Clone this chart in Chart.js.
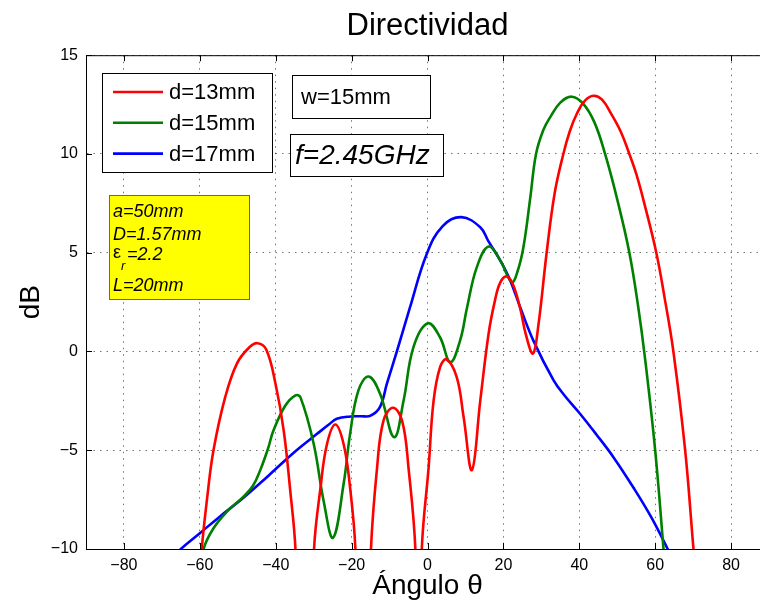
<!DOCTYPE html>
<html>
<head>
<meta charset="utf-8">
<title>Directividad</title>
<script src="https://cdn.jsdelivr.net/npm/chart.js@4.4.1/dist/chart.umd.min.js"></script>
<style>
  html, body { margin: 0; padding: 0; background: #fff; overflow: hidden; }
  #wrap { width: 790px; height: 610px; }
</style>
</head>
<body>
<div id="wrap"><canvas id="myChart" width="790" height="610"></canvas></div>
<script>
const seriesLabels = ["d=13mm", "d=15mm", "d=17mm"];
const seriesColors = ["#ff0000", "#008000", "#0000ff"];

// d=13mm
const redAngles = [-62, -59.5, -58, -56.4, -53.3, -50.2, -47, -44.8, -42.5, -40.1, -37.9, -36.2, -34.8, -32.3,
  -29.9, -28.2, -26.5, -24.3, -22.1, -20.4, -19, -17, -14.9, -13.3, -11.6, -9.1, -6.7, -5.0, -3.2, -2.3,
  -1.5, 0.3, 1.6, 3.3, 5.0, 7.7, 9.5, 11.7, 13.9, 16.1, 17.8, 19.2, 20.9, 22.5, 24.4, 26, 27.8, 29.2, 31.4,
  33.5, 35.8, 37.5, 39.5, 41.5, 43.7, 46, 48.5, 51, 53.2, 55, 57, 60.3, 62.5, 64.8, 67.9, 70.1, 71.5];
const redDb = [-16, -10, -7.3, -5, -2.3, -0.6, 0.2, 0.42, 0.1, -1.6, -4.0, -7.0, -10, -22,
  -10, -6.9, -4.7, -3.7, -4.7, -6.9, -10, -22, -10, -5.9, -3.5, -2.85, -3.5, -5.9, -10, -18,
  -10, -5.85, -2.5, -0.8, -0.4, -1.3, -3.3, -6.0, -2.5, 0.9, 2.6, 3.5, 3.8, 3.4, 2.2, 0.8, -0.1, 1.3, 5,
  8, 10, 11.15, 12.1, 12.7, 12.95, 12.75, 12.0, 11.1, 10, 9.0, 7.6, 5, 2.7, 0, -5, -10, -13];

// d=15mm
const greenAngles = [-60.5, -59, -56.4, -52.8, -48.5, -46, -44.1, -42, -40.6, -37.5, -34.9, -33.5, -30, -27.4,
  -24.9, -22.1, -20.4, -18.2, -15.5, -12.5, -8.8, -6.3, -3.7, 0.1, 3.3, 6.0, 8.6, 10.4, 13, 16.1, 19.2, 22.2,
  23.8, 25.3, 27.1, 28.6, 30.5, 32.3, 35, 38.0, 41, 44, 46.8, 50, 53.2, 55.5, 57.4, 60, 62.2, 63];
const greenDb = [-12, -10, -8.95, -8.1, -7.35, -6.8, -6.02, -4.9, -4.0, -2.75, -2.23, -2.31, -4.67, -7.54,
  -9.43, -6.7, -4.17, -1.97, -1.27, -2.14, -4.34, -2.48, 0.22, 1.43, 0.72, -0.54, 0.56, 2.2, 4.27, 5.31, 4.6, 3.51,
  4.1, 5.3, 7.8, 10, 11.2, 11.85, 12.6, 12.9, 12.55, 11.6, 10, 7.7, 5, 2.3, -0.46, -5, -10, -12];

// d=17mm
const blueAngles = [-66, -65, -60, -55, -48.5, -44, -40, -34.5, -29.1, -26, -23.9, -20.3, -17.5, -15, -12.5,
  -10.7, -8, -4.6, -0.2, 4, 8.9, 13.9, 16, 19.2, 21.8, 24.5, 27.9, 33.2, 36, 40.2, 44.5, 49, 54.3, 59, 63.3, 64];
const blueDb = [-10.3, -10, -9.2, -8.4, -7.4, -6.65, -5.95, -5.0, -4.17, -3.7, -3.41, -3.29, -3.28, -3.25, -2.8,
  -1.63, 0.05, 2.24, 4.94, 6.35, 6.8, 6.29, 5.6, 4.6, 3.6, 2.2, 0.55, -1.45, -2.2, -3.15, -4.2, -5.35, -6.9, -8.4, -10, -10.3];

const xTicks = [-80, -60, -40, -20, 0, 20, 40, 60, 80];
const yTicks = [-10, -5, 0, 5, 10, 15];

const FONT = '"Liberation Sans", Arial, Helvetica, sans-serif';

const toPoints = (xs, ys) => xs.map((v, i) => ({ x: v, y: ys[i] }));
const minus = v => String(v).replace("-", "\u2212");

// boxes drawn on top of the plot, MATLAB style
const notes = {
  id: "notes",
  afterDraw(chart) {
    const { ctx, chartArea: a, scales } = chart;
    ctx.save();

    // top border and inward ticks
    ctx.strokeStyle = "#000";
    ctx.lineWidth = 1;
    ctx.beginPath();
    ctx.moveTo(a.left, a.top + 0.5);
    ctx.lineTo(a.right, a.top + 0.5);
    xTicks.forEach(v => {
      const px = Math.round(scales.x.getPixelForValue(v)) + 0.5;
      ctx.moveTo(px, a.bottom); ctx.lineTo(px, a.bottom - 6);
      ctx.moveTo(px, a.top); ctx.lineTo(px, a.top + 6);
    });
    yTicks.forEach(v => {
      const py = Math.round(scales.y.getPixelForValue(v)) + 0.5;
      ctx.moveTo(a.left, py); ctx.lineTo(a.left + 6, py);
    });
    ctx.stroke();

    // legend
    ctx.fillStyle = "#fff";
    ctx.fillRect(102, 73, 170, 99);
    ctx.strokeRect(102.5, 73.5, 170, 99);
    ctx.textBaseline = "middle";
    chart.data.datasets.forEach((ds, i) => {
      const ly = 92 + i * 30.8;
      ctx.strokeStyle = ds.borderColor;
      ctx.lineWidth = 2.6;
      ctx.beginPath();
      ctx.moveTo(113, ly);
      ctx.lineTo(163, ly);
      ctx.stroke();
      ctx.fillStyle = "#000";
      ctx.font = "22px " + FONT;
      ctx.fillText(ds.label, 169, ly + 1);
    });

    // w box
    ctx.strokeStyle = "#000";
    ctx.lineWidth = 1;
    ctx.fillStyle = "#fff";
    ctx.fillRect(292, 75, 138, 43);
    ctx.strokeRect(292.5, 75.5, 138, 43);
    ctx.fillStyle = "#000";
    ctx.font = "22px " + FONT;
    ctx.fillText("w=15mm", 301, 98);

    // frequency box
    ctx.fillStyle = "#fff";
    ctx.fillRect(290, 134, 153, 42);
    ctx.strokeRect(290.5, 134.5, 153, 42);
    ctx.fillStyle = "#000";
    ctx.font = "italic 28px " + FONT;
    ctx.fillText("f=2.45GHz", 295, 156);

    // substrate box
    ctx.fillStyle = "#ffff00";
    ctx.fillRect(109, 195, 140, 104);
    ctx.strokeStyle = "#666";
    ctx.strokeRect(109.5, 195.5, 140, 104);
    ctx.fillStyle = "#000";
    ctx.textBaseline = "alphabetic";
    ctx.font = "italic 18px " + FONT;
    ctx.fillText("a=50mm", 113, 217);
    ctx.fillText("D=1.57mm", 113, 240);
    ctx.font = "18px " + FONT;
    ctx.fillText("\u03b5", 113, 258);
    ctx.font = "italic 13px " + FONT;
    ctx.fillText("r", 121, 270);
    ctx.font = "italic 18px " + FONT;
    ctx.fillText("=2.2", 127, 260);
    ctx.fillText("L=20mm", 113, 291);

    ctx.restore();
  }
};

const ctx = document.getElementById("myChart");

const series = [
  toPoints(redAngles, redDb),
  toPoints(greenAngles, greenDb),
  toPoints(blueAngles, blueDb)
];

const myChart = new Chart(ctx, {
  type: "line",
  data: {
    datasets: series.map((pts, i) => ({
      label: seriesLabels[i],
      data: pts,
      borderColor: seriesColors[i],
      backgroundColor: seriesColors[i],
      borderWidth: 2.6,
      pointRadius: 0,
      fill: false,
      tension: 0.4
    }))
  },
  options: {
    responsive: false,
    animation: false,
    layout: { padding: { left: 0, right: 21, top: 0, bottom: 0 } },
    plugins: {
      legend: { display: false },
      tooltip: { enabled: false },
      title: {
        display: true,
        text: "Directividad",
        fullSize: false,
        color: "#000",
        font: { family: FONT, size: 31, weight: "normal" },
        padding: { top: 8, bottom: 10 }
      }
    },
    scales: {
      x: {
        type: "linear",
        min: -90,
        max: 90,
        afterBuildTicks: s => { s.ticks = xTicks.map(v => ({ value: v })); },
        afterFit: s => { s.height = 61; },
        ticks: { color: "#000", padding: 7, font: { family: FONT, size: 16 }, callback: minus, maxRotation: 0 },
        grid: { color: "rgba(0,0,0,0.55)", lineWidth: 1, drawTicks: false },
        border: { display: true, color: "#000", width: 1, dash: [1.5, 5] },
        title: { display: true, text: "\u00c1ngulo \u03b8", color: "#000", font: { family: FONT, size: 28 }, padding: { top: 0, bottom: 7 } }
      },
      y: {
        min: -10,
        max: 15,
        afterBuildTicks: s => { s.ticks = yTicks.map(v => ({ value: v })); },
        afterFit: s => { s.width = 86; },
        ticks: { color: "#000", padding: 8, font: { family: FONT, size: 16 }, callback: minus },
        grid: { color: "rgba(0,0,0,0.55)", lineWidth: 1, drawTicks: false },
        border: { display: true, color: "#000", width: 1, dash: [1.5, 5] },
        title: { display: true, text: "dB", color: "#000", font: { family: FONT, size: 28 }, padding: { top: 14, bottom: 0 } }
      }
    }
  },
  plugins: [notes]
});
</script>
</body>
</html>
